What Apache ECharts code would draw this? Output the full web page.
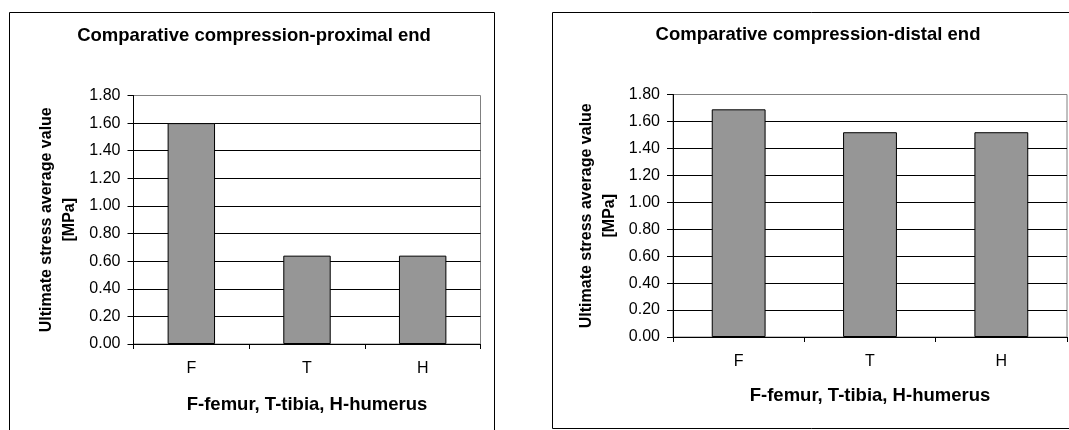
<!DOCTYPE html>
<html>
<head>
<meta charset="utf-8">
<script src="https://cdn.jsdelivr.net/npm/echarts@6/dist/echarts.min.js"></script>
<style>
  html, body { margin: 0; padding: 0; background: #fff; }
  #chart { width: 1069px; height: 430px; }
</style>
</head>
<body>
<div id="chart"></div>
<script>
// Bone groups on the horizontal axis
const categories = ['F', 'T', 'H'];
// Ultimate stress average values [MPa]
const proximalValues = [1.60, 0.64, 0.64];
const distalValues = [1.69, 1.52, 1.52];
// Value axis range
const yMin = 0;
const yMax = 1.8;
const yStep = 0.2;

const titles = ['Comparative compression-proximal end', 'Comparative compression-distal end'];
const xName = 'F-femur, T-tibia, H-humerus';
const yName = 'Ultimate stress average value\n[MPa]';

const FONT = '"Liberation Sans", Arial, sans-serif';

const chart = echarts.init(document.getElementById('chart'), null, { renderer: 'canvas' });

function xAxisFor(gridIndex, nameGap) {
  return {
    type: 'category',
    gridIndex,
    data: categories,
    boundaryGap: true,
    name: xName,
    nameLocation: 'middle',
    nameGap,
    nameTextStyle: { fontFamily: FONT, fontSize: 18.5, fontWeight: 'bold', color: '#000' },
    axisLine: { show: true, lineStyle: { color: '#000', width: 1 } },
    axisTick: { show: true, alignWithLabel: false, length: 5, lineStyle: { color: '#000' } },
    axisLabel: { margin: 17, fontFamily: FONT, fontSize: 16, color: '#000' },
    splitLine: { show: false }
  };
}

function yAxisFor(gridIndex, nameGap) {
  return {
    type: 'value',
    gridIndex,
    min: yMin,
    max: yMax,
    interval: yStep,
    name: yName,
    nameLocation: 'middle',
    nameGap,
    nameRotate: 90,
    nameTextStyle: { fontFamily: FONT, fontSize: 16, fontWeight: 'bold', color: '#000', lineHeight: 23, align: 'center' },
    axisLine: { show: true, lineStyle: { color: '#000', width: 1 } },
    axisTick: { show: true, inside: false, length: 6, lineStyle: { color: '#000' } },
    axisLabel: {
      margin: 13, fontFamily: FONT, fontSize: 16, color: '#000',
      formatter: v => v.toFixed(2)
    },
    splitLine: { show: true, showMaxLine: false, lineStyle: { color: '#000', width: 1 } }
  };
}

function barSeries(index, values) {
  return {
    type: 'bar',
    xAxisIndex: index,
    yAxisIndex: index,
    data: values,
    barWidth: '41%',
    itemStyle: { color: '#969696', borderColor: '#000', borderWidth: 1 },
    emphasis: { disabled: true },
    animation: false
  };
}

chart.setOption({
  backgroundColor: '#fff',
  animation: false,
  grid: [
    { left: 133.5, top: 95.5, width: 347, height: 248.5, show: true, borderColor: '#808080', borderWidth: 1, backgroundColor: 'transparent' },
    { left: 673, top: 94.5, width: 394, height: 242.5, show: true, borderColor: '#808080', borderWidth: 1, backgroundColor: 'transparent' }
  ],
  xAxis: [xAxisFor(0, 51), xAxisFor(1, 49)],
  yAxis: [yAxisFor(0, 52), yAxisFor(1, 52)],
  series: [barSeries(0, proximalValues), barSeries(1, distalValues)],
  graphic: [
    // chart frames
    { type: 'rect', shape: { x: 9.5, y: 12.5, width: 485, height: 425 }, style: { fill: 'none', stroke: '#000', lineWidth: 1 }, silent: true },
    { type: 'rect', shape: { x: 552.5, y: 12.5, width: 530, height: 416 }, style: { fill: 'none', stroke: '#000', lineWidth: 1 }, silent: true },
    // chart titles
    { type: 'text', x: 254, y: 35.5, style: { text: titles[0], font: 'bold 18.5px ' + FONT, fill: '#000', textAlign: 'center', textVerticalAlign: 'middle' }, silent: true },
    { type: 'text', x: 818, y: 34.5, style: { text: titles[1], font: 'bold 18.5px ' + FONT, fill: '#000', textAlign: 'center', textVerticalAlign: 'middle' }, silent: true }
  ]
});
</script>
</body>
</html>
